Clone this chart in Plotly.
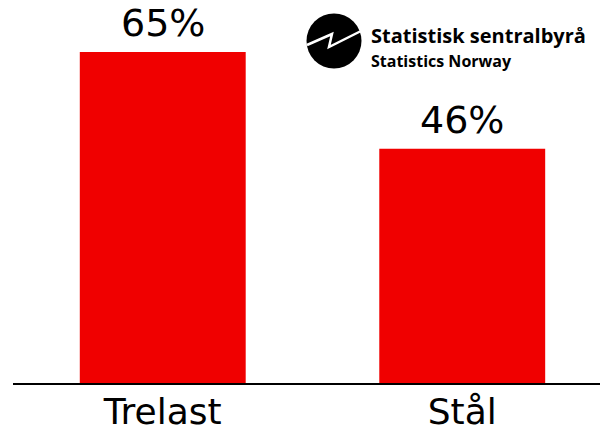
import plotly.graph_objects as go

categories = ["Trelast", "Stål"]
values = [65, 46]
value_labels = ["65%", "46%"]

W, H = 600, 436
L, R, T, B = 13, 0, 0, 53
pw, ph = W - L - R, H - T - B

def px(x):
    return (x - L) / pw

def py(y):
    return (H - B - y) / ph

fig = go.Figure()
fig.add_trace(go.Bar(
    x=categories, y=values, width=0.554,
    marker=dict(color="#F00000", line=dict(width=0)),
    hoverinfo="skip",
))

for c, v, t in zip(categories, values, value_labels):
    fig.add_annotation(x=c, y=v, text=t, showarrow=False, yanchor="bottom",
                       yshift=5, font=dict(size=38, color="black", family="DejaVu Sans"))

# Logo
cx, cy, r = 334, 41, 27.5
fig.add_shape(type="circle", xref="paper", yref="paper",
              x0=px(cx - r), x1=px(cx + r), y0=py(cy + r), y1=py(cy - r),
              fillcolor="black", line=dict(width=0))
pts = [(307, 45), (332, 34), (329, 47), (361, 31)]
path = "M " + " L ".join(f"{px(a):.5f},{py(b):.5f}" for a, b in pts)
fig.add_shape(type="path", xref="paper", yref="paper", path=path,
              line=dict(color="white", width=2.5))
fig.add_annotation(xref="paper", yref="paper", x=px(369), y=py(51), xanchor="left",
                   yanchor="bottom", showarrow=False,
                   text="<b>Statistisk sentralbyrå</b>",
                   font=dict(size=20, color="black", family="Open Sans"))
fig.add_annotation(xref="paper", yref="paper", x=px(369), y=py(74), xanchor="left",
                   yanchor="bottom", showarrow=False,
                   text="<b>Statistics Norway</b>",
                   font=dict(size=16, color="black", family="Open Sans"))

fig.update_layout(
    width=W, height=H,
    margin=dict(l=L, r=R, t=T, b=B, autoexpand=False),
    paper_bgcolor="white", plot_bgcolor="white",
    showlegend=False,
    xaxis=dict(range=[-0.5, 1.46], showline=True, linecolor="black", linewidth=1.5,
               showgrid=False, ticks="", automargin=False, ticklabelstandoff=-4,
               tickfont=dict(size=36, color="black", family="DejaVu Sans"),
               fixedrange=True),
    yaxis=dict(range=[0, 75.2], visible=False, fixedrange=True),
)

fig.write_html("out.html", config={"displayModeBar": False, "staticPlot": True})

with open("out.html", "r", encoding="utf-8") as f:
    html = f.read()
html = html.replace("<head>", "<head><style>html,body{margin:0;padding:0;overflow:hidden;}</style>", 1)
with open("out.html", "w", encoding="utf-8") as f:
    f.write(html)
